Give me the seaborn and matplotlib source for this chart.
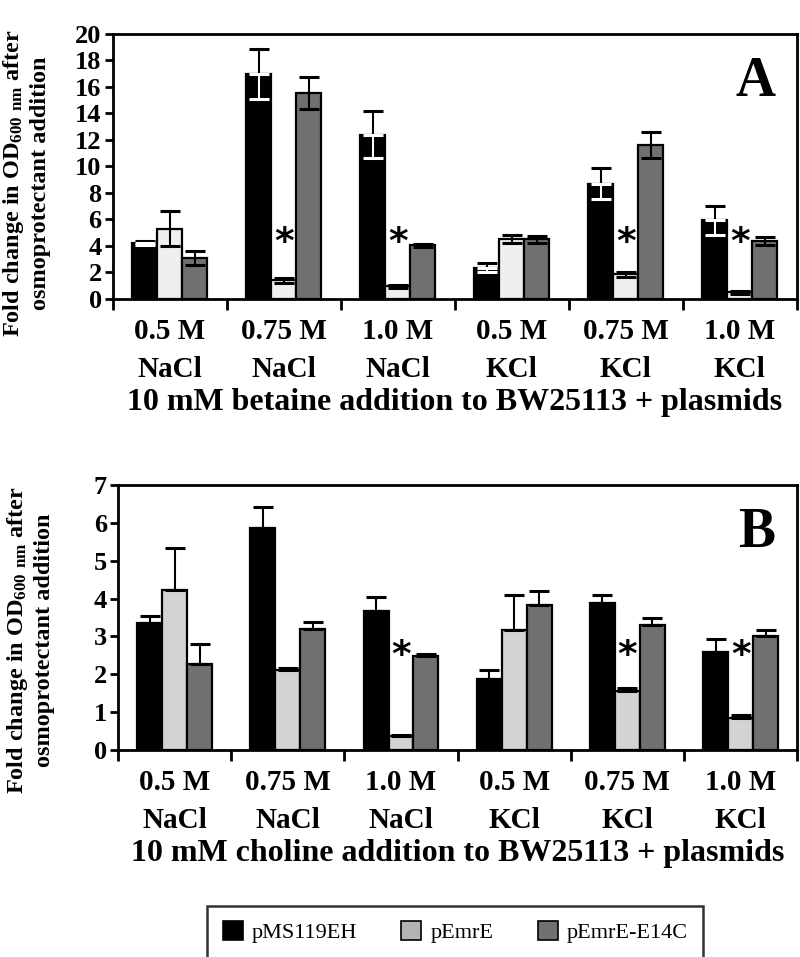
import numpy as np
import pandas as pd
import matplotlib
matplotlib.use("Agg")
import matplotlib.pyplot as plt
import seaborn as sns
from matplotlib.patches import Patch

# x categories (two-line tick labels)
conditions = ["0.5 M\nNaCl", "0.75 M\nNaCl", "1.0 M\nNaCl",
              "0.5 M\nKCl", "0.75 M\nKCl", "1.0 M\nKCl"]
plasmids = ["pMS119EH", "pEmrE", "pEmrE-E14C"]

# panel A: betaine
betaine_pms = [4.2, 16.95, 12.4, 2.35, 8.7, 5.95]
betaine_emre = [5.3, 1.4, 0.95, 4.5, 1.85, 0.5]
betaine_e14c = [3.1, 15.55, 4.05, 4.5, 11.6, 4.4]
betaine_pms_err = [0.15, 1.9, 1.8, 0.35, 1.15, 1.1]
betaine_emre_err = [1.3, 0.2, 0.1, 0.3, 0.2, 0.1]
betaine_e14c_err = [0.55, 1.2, 0.1, 0.25, 1.0, 0.3]
betaine_stars = [1, 2, 4, 5]

# panel B: choline
choline_pms = [3.35, 5.85, 3.68, 1.88, 3.89, 2.6]
choline_emre = [4.22, 2.1, 0.37, 3.18, 1.56, 0.85]
choline_e14c = [2.27, 3.2, 2.48, 3.84, 3.3, 3.02]
choline_pms_err = [0.19, 0.56, 0.35, 0.24, 0.19, 0.33]
choline_emre_err = [1.11, 0.07, 0.03, 0.9, 0.08, 0.07]
choline_e14c_err = [0.52, 0.18, 0.06, 0.35, 0.19, 0.14]
choline_stars = [2, 4, 5]

sns.set_theme(style="white")
plt.rcParams['font.family'] = ['Liberation Serif', 'DejaVu Serif']
plt.rcParams['font.weight'] = 'bold'
plt.rcParams['mathtext.fontset'] = 'custom'
plt.rcParams['mathtext.rm'] = 'Liberation Serif:bold'
plt.rcParams['mathtext.default'] = 'rm'
for key in ['text.color', 'axes.labelcolor', 'xtick.color', 'ytick.color']:
    plt.rcParams[key] = 'black'

YLABEL = "Fold change in OD$_{600\\ nm}$ after\nosmoprotectant addition"


def make_df(a, b, c):
    rows = []
    for name, vals in zip(plasmids, [a, b, c]):
        for cond, v in zip(conditions, vals):
            rows.append({"condition": cond, "plasmid": name, "value": v})
    return pd.DataFrame(rows)


def draw_panel(ax, df, errs, colors, ymax, ystep, letter, xlabel,
               stars, star_y, symmetric, ylab_x, ylab_y):
    sns.barplot(data=df, x="condition", y="value", hue="plasmid",
                order=conditions, hue_order=plasmids, palette=colors,
                width=0.66, edgecolor="black", linewidth=1.6,
                errorbar=None, legend=False, ax=ax)
    bars = list(ax.containers)

    for i, cont in enumerate(bars):
        xs = [p.get_x() + p.get_width() / 2 for p in cont]
        hs = [p.get_height() for p in cont]
        if symmetric:
            ax.errorbar(xs, hs, yerr=errs[i], fmt="none", ecolor="black",
                        elinewidth=1.5, capsize=7, capthick=2.2, zorder=5)
            if i == 0:
                # lower half sits on the black bar, shows white
                ax.errorbar(xs, hs, yerr=[errs[i], [0] * len(xs)], fmt="none",
                            ecolor="white", elinewidth=1.5, capsize=7,
                            capthick=2.2, zorder=6)
        else:
            ax.errorbar(xs, hs, yerr=[[0] * len(xs), errs[i]], fmt="none",
                        ecolor="black", elinewidth=1.5, capsize=7,
                        capthick=2.2, zorder=5)

    light = bars[1]
    for k in stars:
        p = light[k]
        ax.text(p.get_x() + p.get_width() / 2, star_y, "*", ha="center",
                va="center", fontsize=27, fontweight="bold", color="black",
                family="DejaVu Sans")

    ax.set_xlim(-0.5, len(conditions) - 0.5)
    ax.set_ylim(0, ymax)
    ax.set_yticks(np.arange(0, ymax + 0.01, ystep))
    ax.set_xticks(np.arange(-0.5, len(conditions)), labels=[])
    ax.set_xticks(np.arange(len(conditions)), labels=conditions, minor=True)
    ax.tick_params(axis="x", which="major", direction="out", length=8,
                   width=2, bottom=True)
    ax.tick_params(axis="x", which="minor", length=0, pad=14,
                   labelsize=21)
    ax.tick_params(axis="y", direction="out", length=6, width=2, left=True,
                   labelsize=19, pad=2)
    for lab in ax.get_xticklabels(minor=True):
        lab.set_fontweight("bold")
        lab.set_linespacing(1.5)
    for lab in ax.get_yticklabels():
        lab.set_fontweight("bold")
    for s in ax.spines.values():
        s.set_visible(True)
        s.set_color("black")
        s.set_linewidth(2)
    ax.set_xlabel(xlabel, fontsize=23, fontweight="bold")
    ax.xaxis.set_label_coords(0.5, -0.335)
    ax.set_ylabel(YLABEL, fontsize=17.5, fontweight="bold", linespacing=1.25)
    ax.yaxis.set_label_coords(ylab_x, ylab_y)
    ax.text(0.94, 0.82, letter, transform=ax.transAxes, ha="center",
            va="center", fontsize=40, fontweight="bold")


fig = plt.figure(figsize=(8, 9.57), dpi=100)
ax_a = fig.add_axes([0.141, 0.6876, 0.855, 0.277])
ax_b = fig.add_axes([0.1475, 0.2163, 0.849, 0.277])

draw_panel(ax_a, make_df(betaine_pms, betaine_emre, betaine_e14c),
           [betaine_pms_err, betaine_emre_err, betaine_e14c_err],
           ["#000000", "#efefef", "#707070"], 20, 2, "A",
           "10 mM betaine addition to BW25113 + plasmids",
           betaine_stars, 4.2, True, -0.09, 0.438)
draw_panel(ax_b, make_df(choline_pms, choline_emre, choline_e14c),
           [choline_pms_err, choline_emre_err, choline_e14c_err],
           ["#000000", "#d3d3d3", "#707070"], 7, 1, "B",
           "10 mM choline addition to BW25113 + plasmids",
           choline_stars, 2.47, False, -0.0928, 0.415)

handles = [Patch(facecolor=c, edgecolor="black", linewidth=1.2)
           for c in ["#000000", "#b4b4b4", "#707070"]]
leg = fig.legend(handles, plasmids, loc="center", ncol=3,
                 bbox_to_anchor=(0.569, 0.026), frameon=True, fancybox=False,
                 edgecolor="black", handlelength=0.9, handleheight=0.9,
                 handletextpad=0.4, columnspacing=2.0, borderpad=0.7,
                 borderaxespad=0,
                 prop={"family": "Liberation Serif", "weight": "normal",
                       "size": 16})
leg.get_frame().set_linewidth(1.8)

fig.savefig("out.png", dpi=100, facecolor="white")
